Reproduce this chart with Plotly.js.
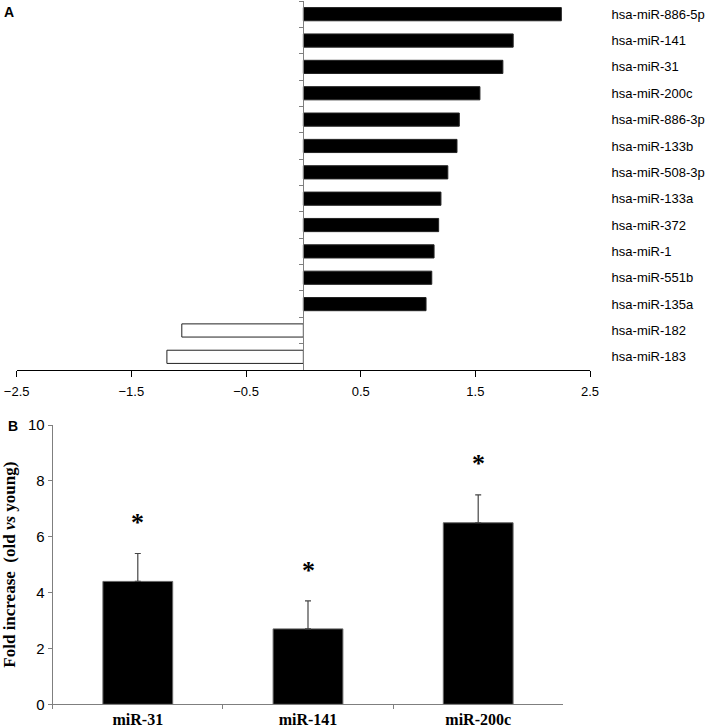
<!DOCTYPE html>
<html>
<head>
<meta charset="utf-8">
<script src="https://cdn.plot.ly/plotly-3.0.1.min.js"></script>
<style>html,body{margin:0;padding:0;background:#fff;}#chart{width:709px;height:726px;}</style>
</head>
<body>
<div id="chart"></div>
<script>
// Panel A: fold change of miRNAs
const topLabels = ['hsa-miR-886-5p','hsa-miR-141','hsa-miR-31','hsa-miR-200c','hsa-miR-886-3p','hsa-miR-133b','hsa-miR-508-3p','hsa-miR-133a','hsa-miR-372','hsa-miR-1','hsa-miR-551b','hsa-miR-135a','hsa-miR-182','hsa-miR-183'];
const topValues = [2.25, 1.83, 1.74, 1.54, 1.36, 1.34, 1.26, 1.20, 1.18, 1.14, 1.12, 1.07, -1.06, -1.19];
const topTicks = [-2.5, -1.5, -0.5, 0.5, 1.5, 2.5];

// Panel B: fold increase (old vs young)
const bottomCats = ['miR-31', 'miR-141', 'miR-200c'];
const bottomValues = [4.4, 2.7, 6.5];
const bottomErrors = [1.0, 1.0, 1.0];
const bottomMarks = ['*', '*', '*'];
const bottomTicks = [0, 2, 4, 6, 8, 10];

const W = 709, H = 726;
const px = v => v / W;
const py = v => 1 - v / H;

const xDomA = [px(16.7), px(590)];
const yDomA = [py(370), py(1)];
const zeroPos = (xDomA[0] + xDomA[1]) / 2;
const xDomB = [px(52.7), px(563.3)];
const yDomB = [py(704.3), py(425)];
const idx = topLabels.map((_, i) => i);

const traces = [
  {
    type: 'bar', orientation: 'h',
    x: topValues, y: topLabels,
    xaxis: 'x', yaxis: 'y',
    width: 0.5,
    marker: {
      color: topValues.map(v => v >= 0 ? '#000000' : '#ffffff'),
      line: {color: '#222', width: 1}
    },
    hoverinfo: 'x+y', showlegend: false
  },
  {
    // invisible carrier so the right-hand label axis is drawn
    type: 'scatter', mode: 'markers',
    x: topValues, y: idx,
    xaxis: 'x', yaxis: 'y2',
    marker: {opacity: 0, size: 1},
    hoverinfo: 'skip', showlegend: false
  },
  {
    type: 'bar',
    x: bottomCats, y: bottomValues,
    xaxis: 'x2', yaxis: 'y3',
    width: 0.41,
    marker: {color: '#000000', line: {color: '#666', width: 1}},
    error_y: {type: 'data', symmetric: false, array: bottomErrors, arrayminus: bottomErrors.map(() => 0),
              color: '#444', thickness: 1.2, width: 3},
    showlegend: false
  }
];

const annotations = [
  {text: '<b>A</b>', xref: 'paper', yref: 'paper', x: px(2), y: py(2), xanchor: 'left', yanchor: 'top',
   showarrow: false, font: {family: 'Liberation Sans, Arial', size: 14, color: '#000'}},
  {text: '<b>B</b>', xref: 'paper', yref: 'paper', x: px(6), y: py(416), xanchor: 'left', yanchor: 'top',
   showarrow: false, font: {family: 'Liberation Sans, Arial', size: 14, color: '#000'}}
];
bottomCats.forEach((c, i) => {
  annotations.push({
    text: '<b>' + bottomMarks[i] + '</b>', xref: 'x2', yref: 'y3',
    x: c, y: bottomValues[i] + bottomErrors[i] + 1.25,
    showarrow: false, yanchor: 'middle', yshift: -4,
    font: {family: 'Liberation Serif, Times New Roman', size: 26, color: '#000'}
  });
});

const axisGrey = '#7f7f7f';
const layout = {
  width: W, height: H,
  margin: {l: 0, r: 0, t: 0, b: 0, pad: 0},
  paper_bgcolor: '#fff', plot_bgcolor: 'rgba(0,0,0,0)',
  showlegend: false,
  font: {family: 'Liberation Sans, Arial', color: '#000'},
  xaxis: {
    domain: xDomA, range: [-2.5, 2.5], anchor: 'y',
    tickmode: 'array', tickvals: topTicks,
    ticks: 'outside', ticklen: 6, tickcolor: '#000', tickwidth: 1,
    ticklabelstandoff: 3,
    showline: true, linecolor: '#000', linewidth: 1,
    showgrid: false, zeroline: false, automargin: false,
    tickfont: {family: 'Liberation Sans, Arial', size: 13, color: '#000'}
  },
  yaxis: {
    domain: yDomA, type: 'category', categoryorder: 'array', categoryarray: topLabels,
    range: [13.5, -0.5], anchor: 'free', position: zeroPos,
    ticks: 'outside', tickson: 'boundaries', ticklen: 4, tickcolor: axisGrey,
    showline: true, linecolor: axisGrey, linewidth: 1,
    showticklabels: false, showgrid: false, zeroline: false, automargin: false
  },
  yaxis2: {
    overlaying: 'y', side: 'right', anchor: 'x',
    range: [13.5, -0.5], tickmode: 'array', tickvals: idx, ticktext: topLabels,
    ticks: 'outside', ticklen: 18, tickcolor: 'rgba(0,0,0,0)',
    showline: false, showgrid: false, zeroline: false, automargin: false,
    tickfont: {family: 'Liberation Sans, Arial', size: 13, color: '#000'}
  },
  xaxis2: {
    domain: xDomB, anchor: 'y3', type: 'category', range: [-0.5, 2.5],
    ticks: 'outside', tickson: 'boundaries', ticklen: 4, tickcolor: axisGrey,
    showline: true, linecolor: axisGrey, linewidth: 1,
    showgrid: false, zeroline: false, automargin: false,
    tickfont: {family: 'Liberation Serif, Times New Roman', size: 16, color: '#000', weight: 'bold'}
  },
  yaxis3: {
    domain: yDomB, anchor: 'x2', range: [0, 10],
    tickmode: 'array', tickvals: bottomTicks,
    ticks: 'outside', ticklen: 4, tickcolor: axisGrey,
    showline: true, linecolor: axisGrey, linewidth: 1,
    showgrid: false, zeroline: false, automargin: false,
    tickfont: {family: 'Liberation Sans, Arial', size: 15, color: '#000'},
    title: {text: 'Fold increase  (old <i>vs</i> young)', standoff: 14,
            font: {family: 'Liberation Serif, Times New Roman', size: 17, color: '#000', weight: 'bold'}}
  },
  annotations: annotations
};

Plotly.newPlot('chart', traces, layout, {displayModeBar: false, staticPlot: true});
</script>
</body>
</html>
